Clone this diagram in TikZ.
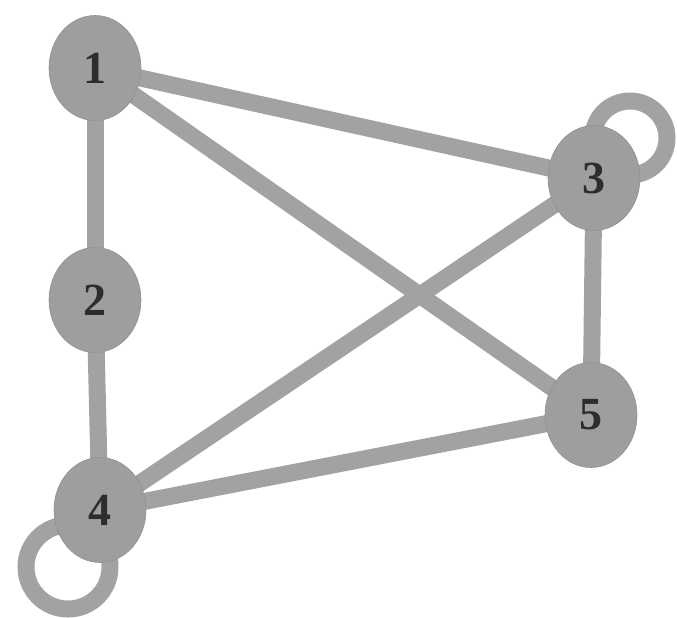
\documentclass[tikz,border=0pt]{standalone}
\usepackage{fontspec}
\setmainfont{Liberation Serif}
\usepackage{xcolor}
\usepackage{tikz}
\usetikzlibrary{arrows.meta,positioning,calc,shapes.geometric}
\definecolor{vgray}{RGB}{158,158,158}
\definecolor{egray}{RGB}{162,162,162}
\definecolor{numgray}{RGB}{45,45,45}
\pgfdeclarelayer{bg}
\pgfsetlayers{bg,main}

\begin{document}
\begin{tikzpicture}[x=1pt, y=-1pt,
    vert/.style={ellipse, fill=vgray, draw=vgray!92!black, line width=0.6pt, minimum width=92pt, minimum height=105pt, inner sep=0pt, font=\fontsize{46}{50}\selectfont\bfseries, text=numgray},
    edge/.style={draw=egray, line width=17pt}
]
\useasboundingbox (0,0) rectangle (677,618);
% vertices
\node[vert] (n1) at (95, 68) {1};
\node[vert] (n2) at (95, 300) {2};
\node[vert] (n3) at (594, 178) {3};
\node[vert] (n4) at (100, 510) {4};
\node[vert] (n5) at (591, 415) {5};
\coordinate (l3) at (630, 138);
\coordinate (l4) at (68, 567);

% edges and loops behind the vertices
\begin{pgfonlayer}{bg}
\draw[edge] (n1.center) -- (n2.center);
\draw[edge] (n2.center) -- (n4.center);
\draw[edge] (n1.center) -- (n3.center);
\draw[edge] (n1.center) -- (n5.center);
\draw[edge] (n4.center) -- (n3.center);
\draw[edge] (n4.center) -- (n5.center);
\draw[edge] (n3.center) -- (n5.center);
\draw[edge] (l3) circle (37);
\draw[edge] (l4) circle (42);
\end{pgfonlayer}
\end{tikzpicture}
\end{document}
